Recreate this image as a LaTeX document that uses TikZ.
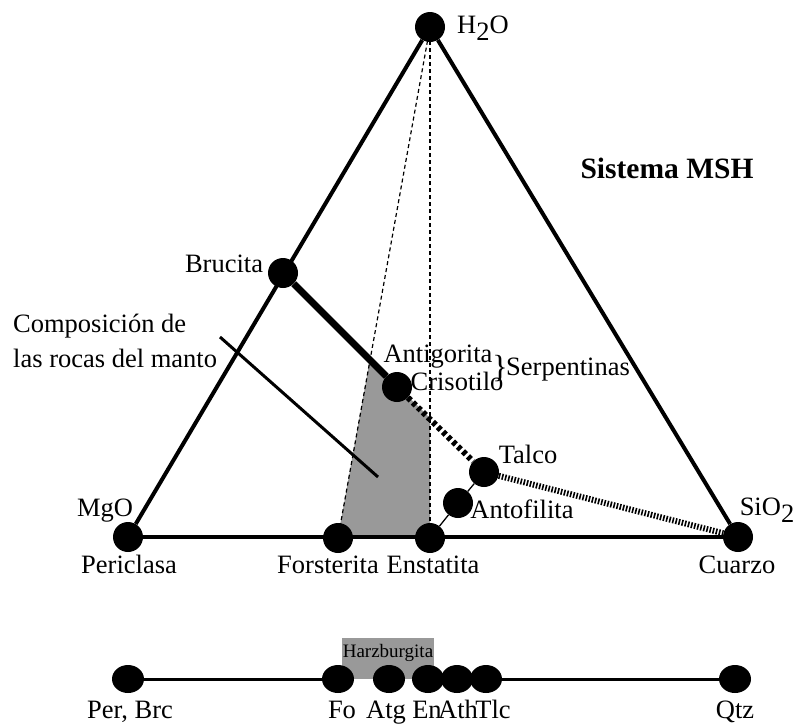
\documentclass[tikz,border=0pt]{standalone}
\usepackage{fontspec}
\setmainfont{Liberation Serif}
\usetikzlibrary{shapes.geometric}
\newcommand{\subdos}{\raisebox{-0.3em}{2}}

\begin{document}
\begin{tikzpicture}[x=1pt, y=-1pt,
    punto/.style={circle, fill=black, inner sep=0pt, minimum size=30pt},
    pbajo/.style={ellipse, fill=black, inner sep=0pt, minimum width=32pt, minimum height=28pt},
    etiq/.style={inner sep=0pt, anchor=base, font=\fontsize{26.5}{30}\selectfont},
    lado/.style={line width=4pt},
    guia/.style={dashed, dash pattern=on 4pt off 3pt, line width=1.2pt},
    serp/.style={dash pattern=on 4pt off 3pt, line width=6pt},
    talc/.style={dash pattern=on 1.6pt off 1.6pt, line width=6pt}]
  \useasboundingbox (0,0) rectangle (798,724);

  % zona de las rocas del manto
  \fill[black!40] (370,359) -- (430,418) -- (430,537) -- (338,537) -- cycle;

  \node[punto] (h2o) at (430,27) {};
  \node[punto] (mgo) at (128,537) {};
  \node[punto] (sio2) at (738,537) {};
  \node[punto] (bru) at (283,273) {};
  \node[punto] (cri) at (397,387) {};
  \node[punto] (tal) at (484,472) {};
  \node[punto] (ant) at (458,503) {};
  \node[punto] (fo) at (338,538) {};
  \node[punto] (en) at (430,538) {};

  \draw[guia] (h2o.center) -- (fo.center);
  \draw[guia] (h2o.center) -- (en.center);
  \draw[lado] (h2o) -- (mgo);
  \draw[lado] (h2o) -- (sio2);
  \draw[lado] (mgo) -- (sio2);
  \draw[line width=7pt] (bru) -- (cri);
  \draw[serp] (cri) -- (tal);
  \draw[talc] (tal) -- (sio2);
  \draw[line width=1.3pt] (en) -- (ant) -- (tal);
  \coordinate (c1) at (220,337);
  \coordinate (c2) at (378,477);
  \draw[line width=3pt] (c1) -- (c2);

  % nombres
  \node[etiq, anchor=base west] (lh2o) at (457,33) {H\subdos O};
  \node[etiq] (lmgo) at (105,516) {MgO};
  \node[etiq] (lsio2) at (767,515) {SiO\subdos};
  \node[etiq, font=\fontsize{29.5}{32}\selectfont\bfseries] (lsis) at (667,178) {Sistema MSH};
  \node[etiq] (lbru) at (224,272) {Brucita};
  \node[etiq, anchor=base west] (lcomp) at (13,332) {Composición de};
  \node[etiq, anchor=base west] (lcomp2) at (13,367) {las rocas del manto};
  \node[etiq] (latg) at (438,362) {Antigorita};
  \node[etiq] (lcri) at (457,390) {Crisotilo};
  \node[etiq, anchor=center, font=\fontsize{32}{34}\selectfont] (llave) at (500,369) {\}};
  \node[etiq, anchor=base west] (lserp) at (506,375) {Serpentinas};
  \node[etiq] (ltal) at (528,463) {Talco};
  \node[etiq] (lant) at (522,518) {Antofilita};
  \node[etiq] (lper) at (129,573) {Periclasa};
  \node[etiq] (lfo) at (328,573) {Forsterita};
  \node[etiq] (len) at (433,573) {Enstatita};
  \node[etiq] (lqz) at (737,573) {Cuarzo};

  % linea inferior
  \fill[black!40] (342,638) rectangle (434,679);
  \node[inner sep=0pt, anchor=base, font=\fontsize{19}{21}\selectfont] (lharz) at (388,657) {Harzburgita};
  \node[pbajo] (per) at (128,679) {};
  \node[pbajo] (bfo) at (338,679) {};
  \node[pbajo] (batg) at (389,679) {};
  \node[pbajo] (ben) at (428,679) {};
  \node[pbajo] (bath) at (457,679) {};
  \node[pbajo] (btlc) at (486,679) {};
  \node[pbajo] (qtz) at (735,679) {};
  \draw[line width=3pt] (per) -- (bfo);
  \draw[line width=3pt] (btlc) -- (qtz);
  \node[etiq] (lpb) at (130,718) {Per, Brc};
  \node[etiq] (lbfo) at (342,718) {Fo};
  \node[etiq] (lbatg) at (386,718) {Atg};
  \node[etiq] (lben) at (427,718) {En};
  \node[etiq] (lbath) at (458,718) {Ath};
  \node[etiq] (lbtlc) at (493,718) {Tlc};
  \node[etiq] (lbqz) at (735,718) {Qtz};
\end{tikzpicture}
\end{document}
